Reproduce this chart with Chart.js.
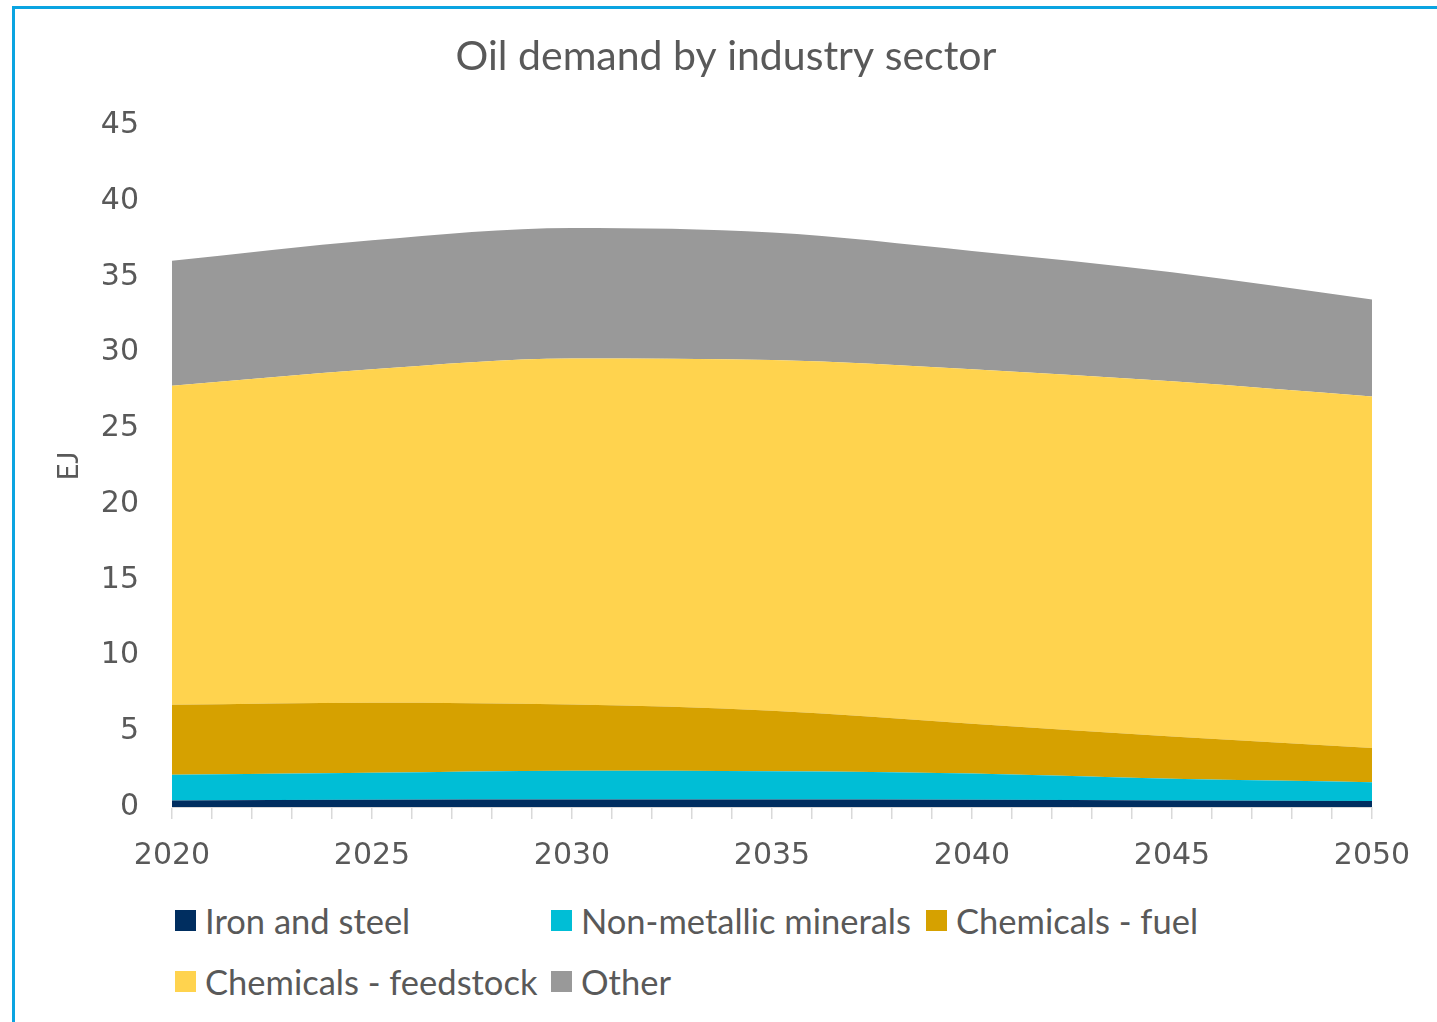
<!DOCTYPE html>
<html>
<head>
<meta charset="utf-8">
<script src="https://cdn.jsdelivr.net/npm/chart.js@4.4.0/dist/chart.umd.min.js"></script>
<style>
  body { margin: 0; background: #fff; width: 1437px; height: 1022px; overflow: hidden; position: relative; }
  #frame { position: absolute; left: 12px; top: 6px; width: 1600px; height: 1200px;
           border-left: 3px solid #0aa4e1; border-top: 3px solid #0aa4e1; }
  #wrap { position: absolute; left: 15px; top: 0; width: 1422px; height: 890px; }
  #legend { position: absolute; left: 175px; top: 899px; display: grid;
            grid-template-columns: 376px 375px 320px; row-gap: 19px;
            font-family: Lato, "Open Sans", sans-serif; font-size: 34.5px; color: #595959; }
  #legend .item { display: flex; align-items: center; height: 42px; white-space: nowrap; }
  #legend .box { width: 21px; height: 21px; margin-right: 9px; flex: none; }
</style>
</head>
<body>
<div id="frame"></div>
<div id="wrap"><canvas id="oilChart"></canvas></div>
<div id="legend"></div>
<script>
// years and values (EJ)
var years = [2020, 2025, 2030, 2035, 2040, 2045, 2050];
var ironSteel = [0.43, 0.48, 0.50, 0.50, 0.48, 0.43, 0.40];
var nonMetallic = [1.70, 1.78, 1.89, 1.86, 1.73, 1.43, 1.24];
var chemFuel = [4.62, 4.62, 4.37, 4.0, 3.29, 2.79, 2.26];
var chemFeedstock = [21.05, 22.02, 22.85, 23.15, 23.4, 23.45, 23.2];
var other = [8.25, 8.5, 8.6, 8.4, 7.8, 7.2, 6.4];

var seriesNames = ['Iron and steel', 'Non-metallic minerals', 'Chemicals - fuel', 'Chemicals - feedstock', 'Other'];
var seriesValues = [ironSteel, nonMetallic, chemFuel, chemFeedstock, other];
var seriesColors = ['#002e60', '#00bed6', '#d6a100', '#ffd34e', '#999999'];

var textColor = '#595959';

function makeDataset(i) {
    return {
        label: seriesNames[i],
        data: years.map(function(yr, j) { return { x: yr, y: seriesValues[i][j] }; }),
        backgroundColor: seriesColors[i],
        borderColor: seriesColors[i],
        borderWidth: 0,
        pointRadius: 0,
        fill: i === 0 ? 'origin' : '-1',
        cubicInterpolationMode: 'monotone'
    };
}

var ctx = document.getElementById('oilChart').getContext('2d');
var chart = new Chart(ctx, {
    type: 'line',
    data: { datasets: seriesNames.map(function(n, i) { return makeDataset(i); }) },
    options: {
        responsive: true,
        maintainAspectRatio: false,
        animation: false,
        layout: { padding: { top: 32, left: 0, right: 0, bottom: 0 } },
        plugins: {
            legend: { display: false },
            tooltip: { enabled: false },
            title: {
                display: true,
                text: 'Oil demand by industry sector',
                color: textColor,
                font: { family: 'Lato', size: 41, weight: 'normal', lineHeight: 1.2 },
                padding: { top: 0, bottom: 44 }
            }
        },
        scales: {
            x: {
                type: 'linear',
                min: 2020,
                max: 2050,
                grid: { drawOnChartArea: false, drawTicks: true, tickLength: 12, color: '#d9d9d9', lineWidth: 1.5 },
                border: { display: true, color: '#d9d9d9', width: 1 },
                ticks: {
                    stepSize: 1,
                    autoSkip: false,
                    maxRotation: 0,
                    padding: 19,
                    color: textColor,
                    font: { family: 'DejaVu Sans', size: 30, lineHeight: 1.2 },
                    callback: function(v) { return v % 5 === 0 ? String(v) : ''; }
                },
                afterFit: function(scale) { scale.height = 83; }
            },
            y: {
                stacked: true,
                min: 0,
                max: 45,
                grid: { display: false, drawTicks: false },
                border: { display: false },
                ticks: {
                    stepSize: 5,
                    padding: 33,
                    color: textColor,
                    font: { family: 'DejaVu Sans', size: 30, lineHeight: 1.2 }
                },
                title: {
                    display: true,
                    text: 'EJ',
                    color: textColor,
                    font: { family: 'Lato', size: 29, lineHeight: 1.2 },
                    padding: { top: 36, bottom: 0 }
                },
                afterFit: function(scale) { scale.width = 157; }
            },
            // empty right-hand space, keeps the title centred on the whole chart
            spacer: {
                position: 'right',
                display: true,
                grid: { display: false },
                border: { display: false },
                ticks: { display: false },
                afterFit: function(scale) { scale.width = 65; }
            }
        }
    }
});

// legend laid out in columns like the original
var legendBox = document.getElementById('legend');
chart.data.datasets.forEach(function(ds) {
    var item = document.createElement('div');
    item.className = 'item';
    var box = document.createElement('span');
    box.className = 'box';
    box.style.background = ds.backgroundColor;
    var label = document.createElement('span');
    label.textContent = ds.label;
    item.appendChild(box);
    item.appendChild(label);
    legendBox.appendChild(item);
});
</script>
</body>
</html>
